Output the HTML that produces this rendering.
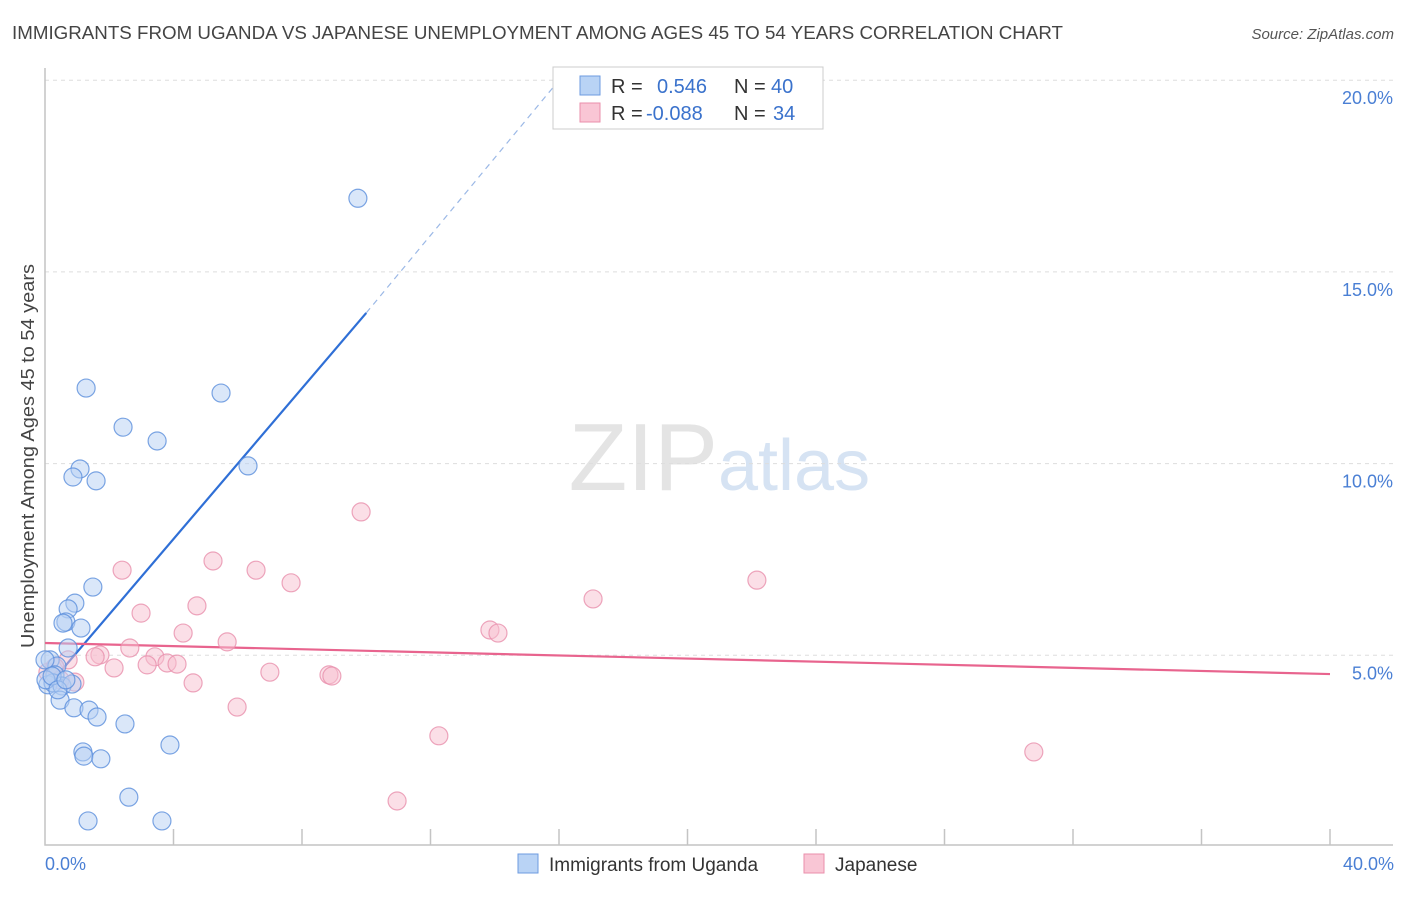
<!DOCTYPE html>
<html><head><meta charset="utf-8"><style>
body{margin:0;background:#fff;font-family:"Liberation Sans",sans-serif}
svg text{font-family:"Liberation Sans",sans-serif}
</style></head><body>
<svg id="chart" width="1406" height="892" xmlns="http://www.w3.org/2000/svg">
<text x="12" y="39" font-size="18" fill="#444" textLength="1051" lengthAdjust="spacingAndGlyphs">IMMIGRANTS FROM UGANDA VS JAPANESE UNEMPLOYMENT AMONG AGES 45 TO 54 YEARS CORRELATION CHART</text>
<text x="1394" y="39" font-size="15" fill="#555" text-anchor="end" font-style="italic">Source: ZipAtlas.com</text>
<text x="718" y="490" font-size="96" fill="#e4e4e4" text-anchor="end" font-family="Liberation Serif">ZIP</text>
<text x="718" y="490" font-size="72" fill="#d6e3f3">atlas</text>
<g id="grid"></g><g id="axes"></g><g id="lines"></g><g id="pts"></g>
<text transform="translate(34,456) rotate(-90)" font-size="18" fill="#444" text-anchor="middle" textLength="384" lengthAdjust="spacingAndGlyphs">Unemployment Among Ages 45 to 54 years</text>
<text x="45" y="870" font-size="18" fill="#4a7fd4">0.0%</text>
<text x="1394" y="870" font-size="18" fill="#4a7fd4" text-anchor="end">40.0%</text>
<g>
<rect x="553" y="67" width="270" height="62" fill="#fff" stroke="#ccc"/>
<rect x="580" y="76" width="20" height="19" fill="#b9d3f5" stroke="#6d9be0"/>
<rect x="580" y="103" width="20" height="19" fill="#f9c6d5" stroke="#ea8fab"/>
<text x="611" y="93" font-size="20" fill="#333">R =</text>
<text x="657" y="93" font-size="20" fill="#3a72cc">0.546</text>
<text x="734" y="93" font-size="20" fill="#333">N =</text>
<text x="771" y="93" font-size="20" fill="#3a72cc">40</text>
<text x="611" y="120" font-size="20" fill="#333">R =</text>
<text x="646" y="120" font-size="20" fill="#3a72cc">-0.088</text>
<text x="734" y="120" font-size="20" fill="#333">N =</text>
<text x="773" y="120" font-size="20" fill="#3a72cc">34</text>
</g>
<g><rect x="518" y="854" width="20" height="19" fill="#b9d3f5" stroke="#6d9be0"/><text x="549" y="871" font-size="19" fill="#333">Immigrants from Uganda</text></g>
<g><rect x="804" y="854" width="20" height="19" fill="#f9c6d5" stroke="#ea8fab"/><text x="835" y="871" font-size="19" fill="#333">Japanese</text></g>
</svg>
<script>
const blueX=[9.74,1.28,5.48,2.43,3.49,1.09,0.87,1.59,6.32,1.49,0.93,0.72,0.65,0.56,1.12,0.72,0.16,0.37,0.31,0.09,0.25,0.53,0.84,0.47,0.90,1.37,1.62,2.49,1.18,1.21,1.74,3.89,2.61,1.34,3.64,0,0.03,0.22,0.40,0.65];
const blueY=[16.92,11.97,11.84,10.95,10.59,9.86,9.65,9.55,9.94,6.78,6.36,6.21,5.87,5.84,5.71,5.19,4.88,4.72,4.49,4.23,4.28,4.20,4.25,3.83,3.63,3.57,3.39,3.21,2.48,2.37,2.30,2.66,1.30,0.68,0.68,4.88,4.36,4.46,4.10,4.36];
const pinkX=[9.84,5.23,6.57,2.40,7.66,22.16,17.06,4.73,2.99,13.85,14.1,4.30,5.67,2.64,1.71,1.56,3.42,0.72,3.80,4.11,3.18,2.15,7.00,8.84,8.93,4.61,0.93,0.09,0.31,5.98,12.26,30.78,10.96,0.47];
const pinkY=[8.74,7.46,7.22,7.22,6.89,6.96,6.47,6.29,6.10,5.66,5.58,5.58,5.35,5.19,5.01,4.96,4.96,4.88,4.80,4.77,4.75,4.67,4.56,4.49,4.46,4.28,4.30,4.56,4.69,3.65,2.90,2.48,1.20,4.36];
const yTicks=[5,10,15,20];
const blueFit=[0.1,4.2,10.0,13.93,16.2,20.2];
const pinkFit=[0,5.32,40,4.51];
const NS='http://www.w3.org/2000/svg';
const sx=v=>45+v/40*1285, sy=v=>847-v/5*191.7;
function mk(t,a,p){const e=document.createElementNS(NS,t);for(const k in a)e.setAttribute(k,a[k]);document.getElementById(p).appendChild(e);return e;}
yTicks.forEach(t=>{
 const l=mk('line',{x1:45,x2:1393,y1:sy(t),y2:sy(t),stroke:'#ddd','stroke-dasharray':'4,4'},'grid');
 
 
 const tx=mk('text',{x:1393,y:sy(t)+24,'font-size':18,fill:'#4a7fd4','text-anchor':'end'},'grid');
 tx.textContent=t.toFixed(1)+'%';
 
 
});
const ax=mk('path',{d:'M45,68V845H1393',stroke:'#c4c4c4',fill:'none','stroke-width':1.5},'axes');


for(let i=1;i<=10;i++){const t=mk('line',{x1:sx(i*4),x2:sx(i*4),y1:829,y2:845,stroke:'#c4c4c4','stroke-width':1.5},'axes');
 
 }
function pts(X,Y,f,s,n){X.forEach((x,i)=>{const c=mk('circle',{cx:sx(x),cy:sy(Y[i]),r:9,fill:f,'fill-opacity':0.5,stroke:s,'stroke-opacity':0.8,'stroke-width':1.2},'pts');
 
 });}
pts(pinkX,pinkY,'#f8c0d0','#e990ad','japanese-point');
pts(blueX,blueY,'#b6d0f3','#5b8fdc','uganda-point');
const b1=mk('line',{x1:sx(blueFit[0]),y1:sy(blueFit[1]),x2:sx(blueFit[2]),y2:sy(blueFit[3]),stroke:'#2f6fd6','stroke-width':2.2},'lines');


const b2=mk('line',{x1:sx(blueFit[2]),y1:sy(blueFit[3]),x2:sx(blueFit[4]),y2:sy(blueFit[5]),stroke:'#9bb8e6','stroke-width':1.2,'stroke-dasharray':'6,5'},'lines');


const p1=mk('line',{x1:sx(pinkFit[0]),y1:sy(pinkFit[1]),x2:sx(pinkFit[2]),y2:sy(pinkFit[3]),stroke:'#e8648e','stroke-width':2.2},'lines');


</script>
</body></html>
